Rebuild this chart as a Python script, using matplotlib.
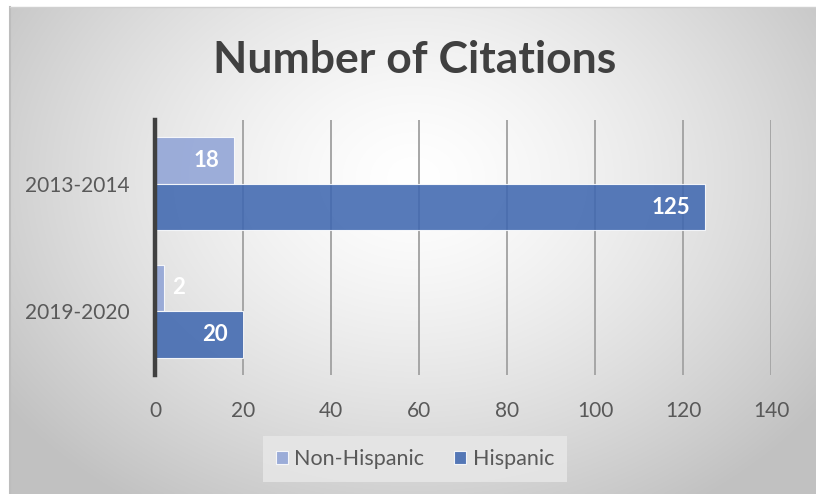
import numpy as np
import matplotlib
matplotlib.use("Agg")
import matplotlib.pyplot as plt

categories = ["2013-2014", "2019-2020"]
non_hispanic = [18, 2]
hispanic = [125, 20]
xticks = [0, 20, 40, 60, 80, 100, 120, 140]

W, H = 816, 494
fig = plt.figure(figsize=(W / 100, H / 100), dpi=100)
fig.patch.set_facecolor("white")

# background radial gradient panel
bg = fig.add_axes([10 / W, 0, 1 - 10 / W, 1 - 7 / H], zorder=0)
ny, nx = 300, 500
yy, xx = np.mgrid[0:ny, 0:nx]
cx, cy = nx * 0.50, ny * 0.35
r = np.sqrt(((xx - cx) / (nx * 0.62)) ** 2 + ((yy - cy) / (ny * 0.80)) ** 2)
r = np.clip(r, 0, 1)
val = 1.0 - 0.24 * r ** 1.4
img = np.dstack([val, val, val])
bg.imshow(img, aspect="auto", extent=[0, 1, 0, 1], origin="upper", interpolation="bilinear")
bg.set_xlim(0, 1); bg.set_ylim(0, 1)
bg.axis("off")
bg.plot([0, 0], [0, 1], color="#bdbdbd", lw=1.5, transform=bg.transAxes, clip_on=False)
bg.plot([0, 1], [1, 1], color="#d0d0d0", lw=1.0, transform=bg.transAxes, clip_on=False)

ax = fig.add_axes([155 / W, 1 - 375 / H, (771 - 155) / W, (375 - 120) / H], zorder=1)
ax.patch.set_alpha(0)

y = np.arange(len(categories))
h = 0.365
c_non = "#8ea2d6"
c_his = "#4068b0"
b1 = ax.barh(y - h / 2, non_hispanic, height=h, color=c_non, alpha=0.85,
             edgecolor="white", linewidth=0.8, zorder=3)
b2 = ax.barh(y + h / 2, hispanic, height=h, color=c_his, alpha=0.88,
             edgecolor="white", linewidth=0.8, zorder=3)

for bars, vals in [(b1, non_hispanic), (b2, hispanic)]:
    for bar, v in zip(bars, vals):
        yc = bar.get_y() + bar.get_height() / 2
        if v >= 8:
            ax.annotate(str(v), (v, yc), xytext=(-11, 0), textcoords="offset points",
                        ha="right", va="center", color="white", fontsize=16,
                        fontweight="bold", family="Lato", zorder=5)
        else:
            ax.annotate(str(v), (v, yc), xytext=(6, 0), textcoords="offset points",
                        ha="left", va="center", color="white", fontsize=16,
                        fontweight="bold", family="Lato", zorder=5)

ax.set_xlim(0, 140)
ax.set_ylim(1.5, -0.5)
ax.set_xticks(xticks)
ax.set_xticklabels([str(t) for t in xticks], family="Lato", fontsize=15, color="#595959")
ax.set_yticks(y)
ax.set_yticklabels(categories, family="Lato", fontsize=15, color="#595959")
ax.tick_params(axis="x", length=0, pad=19)
ax.tick_params(axis="y", length=0, pad=18)
ax.grid(axis="x", color="#a6a6a6", linewidth=1.4, zorder=1)
for s in ["top", "right", "bottom"]:
    ax.spines[s].set_visible(False)
ax.spines["left"].set_color("#404040")
ax.spines["left"].set_linewidth(3.2)
ax.spines["left"].set_zorder(4)

fig.text(415 / W, 1 - 60 / H, "Number of Citations", ha="center", va="center",
         fontsize=32, fontweight="bold", color="#404040", family="Lato")

# legend
leg = ax.legend([b1, b2], ["Non-Hispanic", "Hispanic"], loc="center",
                bbox_to_anchor=(415 / W, 1 - 459 / H), bbox_transform=fig.transFigure,
                ncol=2, frameon=True, fancybox=False, prop={"family": "Lato", "size": 15.5},
                handlelength=0.55, handleheight=0.55, handletextpad=0.3, columnspacing=1.4,
                borderpad=0.6, borderaxespad=0)
leg.get_frame().set_facecolor("#e6e6e6")
leg.get_frame().set_edgecolor("none")
leg.get_frame().set_alpha(0.9)
for t in leg.get_texts():
    t.set_color("#595959")

fig.savefig("out.png", dpi=100)
